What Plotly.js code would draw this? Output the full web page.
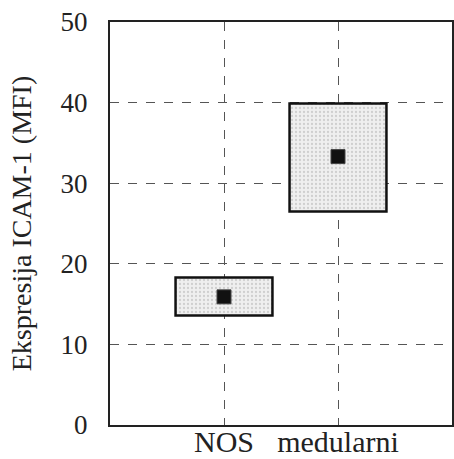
<!DOCTYPE html>
<html>
<head>
<meta charset="utf-8">
<script src="https://cdn.plot.ly/plotly-3.0.1.min.js"></script>
<style>html,body{margin:0;padding:0;background:#fff;}#chart{width:454px;height:459px;}</style>
</head>
<body>
<div id="chart"></div>
<script>
const categories = ['NOS', 'medularni'];
const lowerValues = [13.6, 26.5];
const upperValues = [18.3, 39.9];
const meanValues = [15.9, 33.3];
const yTicks = [0, 10, 20, 30, 40, 50];

const boxHeights = upperValues.map((u, i) => u - lowerValues[i]);

const boxes = {
  type: 'bar',
  x: categories,
  y: boxHeights,
  base: lowerValues,
  width: 0.85,
  marker: {
    color: '#ececec',
    line: {color: '#111', width: 2.5},
    pattern: {shape: '.', fgcolor: '#cfcfcf', bgcolor: '#efefef', size: 4, solidity: 0.25}
  },
  hoverinfo: 'skip',
  showlegend: false
};

const means = {
  type: 'scatter',
  mode: 'markers',
  x: categories,
  y: meanValues,
  marker: {symbol: 'square', size: 14, color: '#111', line: {color: '#444', width: 1}},
  showlegend: false
};

const font = 'Liberation Serif';

const layout = {
  width: 454,
  height: 459,
  margin: {l: 110, r: 2, t: 22, b: 34},
  paper_bgcolor: '#fff',
  plot_bgcolor: '#fff',
  font: {family: font, color: '#222', size: 28},
  bargap: 0,
  xaxis: {
    type: 'category',
    range: [-1, 2],
    showgrid: true,
    gridcolor: '#555',
    griddash: 'dash',
    gridwidth: 1,
    showline: true,
    mirror: true,
    linecolor: '#222',
    linewidth: 2,
    ticks: '',
    ticklabelstandoff: -11,
    tickfont: {family: font, size: 30, color: '#222'},
    zeroline: false
  },
  yaxis: {
    range: [0, 50],
    tickvals: yTicks,
    ticktext: yTicks.map(String),
    showgrid: true,
    gridcolor: '#555',
    griddash: 'dash',
    gridwidth: 1,
    showline: true,
    mirror: true,
    linecolor: '#222',
    linewidth: 2,
    ticks: 'outside',
    ticklen: 15,
    tickcolor: 'rgba(0,0,0,0)',
    tickfont: {family: font, size: 27, color: '#222'},
    zeroline: false,
    title: {text: 'Ekspresija ICAM-1 (MFI)', font: {family: font, size: 28, color: '#222'}, standoff: 21}
  }
};

Plotly.newPlot('chart', [boxes, means], layout, {displayModeBar: false, staticPlot: true});
</script>
</body>
</html>
